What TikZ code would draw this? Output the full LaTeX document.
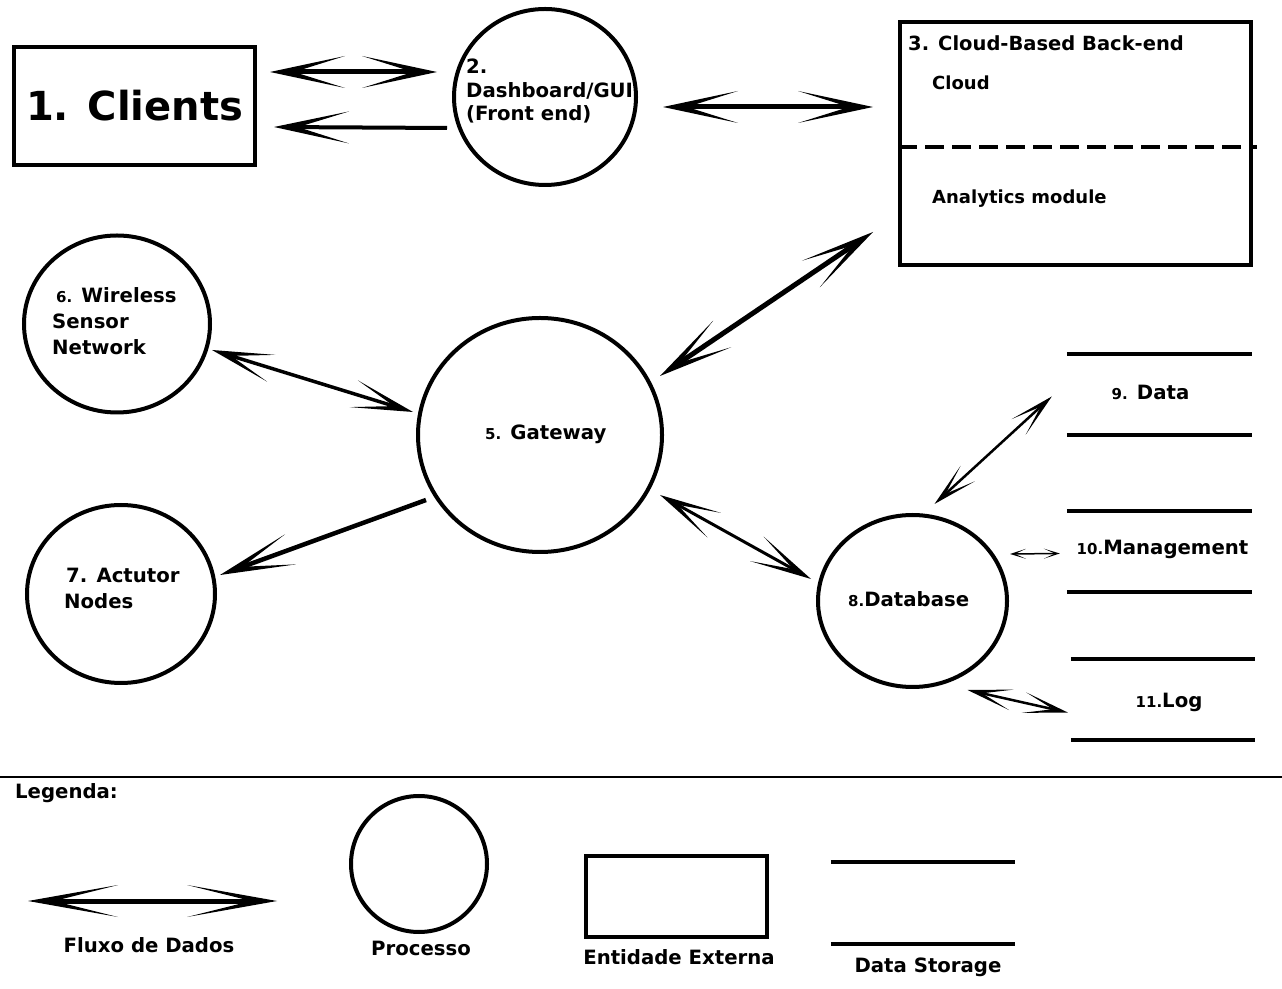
\documentclass[tikz,border=0pt]{standalone}
\usepackage{fontspec}
\setmainfont{DejaVu Sans}
\usetikzlibrary{arrows.meta,shapes.geometric}
\newcommand\nsmall[1]{{\fontsize{15}{17}\selectfont #1}}
\tikzset{
  lbl/.style={inner sep=0pt, font=\fontsize{19.7}{26}\selectfont\bfseries},
  proc/.style={draw, ellipse, line width=4pt, inner sep=0pt},
  entity/.style={draw, rectangle, line width=4pt, inner sep=0pt},
  store/.style={rectangle, inner sep=0pt, minimum width=185pt, minimum height=81pt},
  bigflow/.style={line width=5pt, >={Stealth[length=75pt,width=32pt,inset=51pt,line width=0pt]}},
  flow/.style={line width=3.5pt, >={Stealth[length=62pt,width=28pt,inset=42pt,line width=0pt]}},
  smallflow/.style={line width=2.5pt, >={Stealth[length=45pt,width=21pt,inset=30pt,line width=0pt]}},
  tinyflow/.style={line width=1.5pt, >={Stealth[length=16pt,width=10pt,inset=11pt,line width=0pt]}}
}
\begin{document}
\begin{tikzpicture}[x=1pt, y=1pt]
\useasboundingbox (0,0) rectangle (1282,988);

% external entities
\node[entity, minimum width=241pt, minimum height=118pt,
      font=\fontsize{40}{44}\selectfont\bfseries] (clients) at (134.5,882) {1. Clients};
\node[entity, minimum width=351pt, minimum height=243pt] (cloud) at (1075.5,844.5) {};
\draw[line width=4pt, dash pattern=on 19pt off 8pt]
  ([yshift=-3.5pt]cloud.west) -- ([shift={(4pt,-3.5pt)}]cloud.east);
\node[lbl, anchor=west, font=\fontsize{19.5}{22}\selectfont\bfseries] (cloud-t) at (908,945) {3. Cloud-Based Back-end};
\node[lbl, anchor=west, font=\fontsize{18}{22}\selectfont\bfseries] (cloud-a) at (932,905) {Cloud};
\node[lbl, anchor=west, font=\fontsize{18}{22}\selectfont\bfseries] (cloud-b) at (932,789) {Analytics module};

% processes
\node[proc, minimum width=182pt, minimum height=176pt] (dash) at (545,891) {};
\node[lbl, align=left, anchor=west, font=\fontsize{19.7}{23.5}\selectfont\bfseries] (dash-t) at (466,897)
  {2.\\Dashboard/GUI\\(Front end)};
\node[proc, minimum width=186pt, minimum height=177pt] (wsn) at (117,664) {};
\node[lbl, align=left, anchor=west] (wsn-t) at (52,667) {\hspace*{4pt}\nsmall{6.} Wireless\\Sensor\\Network};
\node[proc, minimum width=244pt, minimum height=234pt] (gw) at (540,553) {};
\node[lbl, anchor=west] (gw-t) at (485,554) {\nsmall{5.} Gateway};
\node[proc, minimum width=188pt, minimum height=178pt] (act) at (121,394) {};
\node[lbl, align=left, anchor=west] (act-t) at (64,400) {\hspace*{2pt}7. Actutor\\Nodes};
\node[proc, minimum width=189pt, minimum height=172pt] (db) at (912.5,387) {};
\node[lbl, anchor=west] (db-t) at (848,389) {\nsmall{8.}Database};

% data stores
\node[store] (data) at (1159.5,593.5) {};
\node[lbl] (data-t) at ([shift={(-9pt,2pt)}]data) {\nsmall{9.} Data};
\node[store] (mgmt) at (1159.5,436.5) {};
\node[lbl] (mgmt-t) at ([shift={(3pt,2pt)}]mgmt) {\nsmall{10.}Management};
\node[store, minimum width=184pt] (log) at (1163,288.5) {};
\node[lbl] (log-t) at ([shift={(6pt,-3pt)}]log) {\nsmall{11.}Log};

% flows
\draw[bigflow, <->] ([shift={(13pt,34pt)}]clients.east) -- ([shift={(-15pt,25pt)}]dash.west);
\draw[bigflow, line width=4pt, ->] ([shift={(-5pt,-31pt)}]dash.west) -- ([shift={(17pt,-21pt)}]clients.east);
\draw[bigflow, <->] ([shift={(25pt,-10pt)}]dash.east) -- ([shift={(-25pt,36.5pt)}]cloud.west);
\draw[bigflow, <->] ([shift={(120pt,59pt)}]gw.center) -- ([shift={(-25pt,35pt)}]cloud.south west);
\draw[flow, <->] ([yshift=-26pt]wsn.east) -- ([shift={(-3pt,23pt)}]gw.west);
\draw[bigflow, line width=4.5pt, ->] ([shift={(10pt,-65pt)}]gw.west) -- ([shift={(3pt,19pt)}]act.east);
\draw[flow, line width=3pt, <->] ([shift={(-4pt,-60pt)}]gw.east) -- ([shift={(-5pt,22pt)}]db.west);
\draw[smallflow, <->] ([shift={(22pt,9pt)}]db.north) -- ([shift={(-15pt,-2pt)}]data.west);
\draw[tinyflow, <->] ([shift={(1pt,47pt)}]db.east) -- ([shift={(-7pt,-2pt)}]mgmt.west);
\draw[smallflow, <->] ([shift={(55pt,-1pt)}]db.south) -- ([shift={(-3pt,-13pt)}]log.west);

% legend
\draw[line width=2.5pt] (0,211) -- (1282,211);
\node[lbl, anchor=west] (leg) at (15,195) {Legenda:};
\coordinate (legA) at (28,87);
\coordinate (legB) at (277,87);
\draw[bigflow, >={Stealth[length=90pt,width=32pt,inset=64pt,line width=0pt]}, <->] (legA) -- (legB);
\node[lbl] (leg-flow) at (149,43) {Fluxo de Dados};
\node[proc, minimum size=136pt] (leg-proc) at (419,124) {};
\node[lbl] (leg-proc-t) at (421,40) {Processo};
\node[entity, minimum width=181pt, minimum height=81pt] (leg-ent) at (676.5,91.5) {};
\node[lbl] (leg-ent-t) at (679,31) {Entidade Externa};
\node[store, minimum width=184pt, minimum height=82pt] (leg-store) at (923,85) {};
\node[lbl] (leg-store-t) at (928,21) {Data Storage};

\foreach \s in {data,mgmt,log,leg-store}
  \draw[line width=4pt] (\s.north west) -- (\s.north east) (\s.south west) -- (\s.south east);
\end{tikzpicture}
\end{document}
